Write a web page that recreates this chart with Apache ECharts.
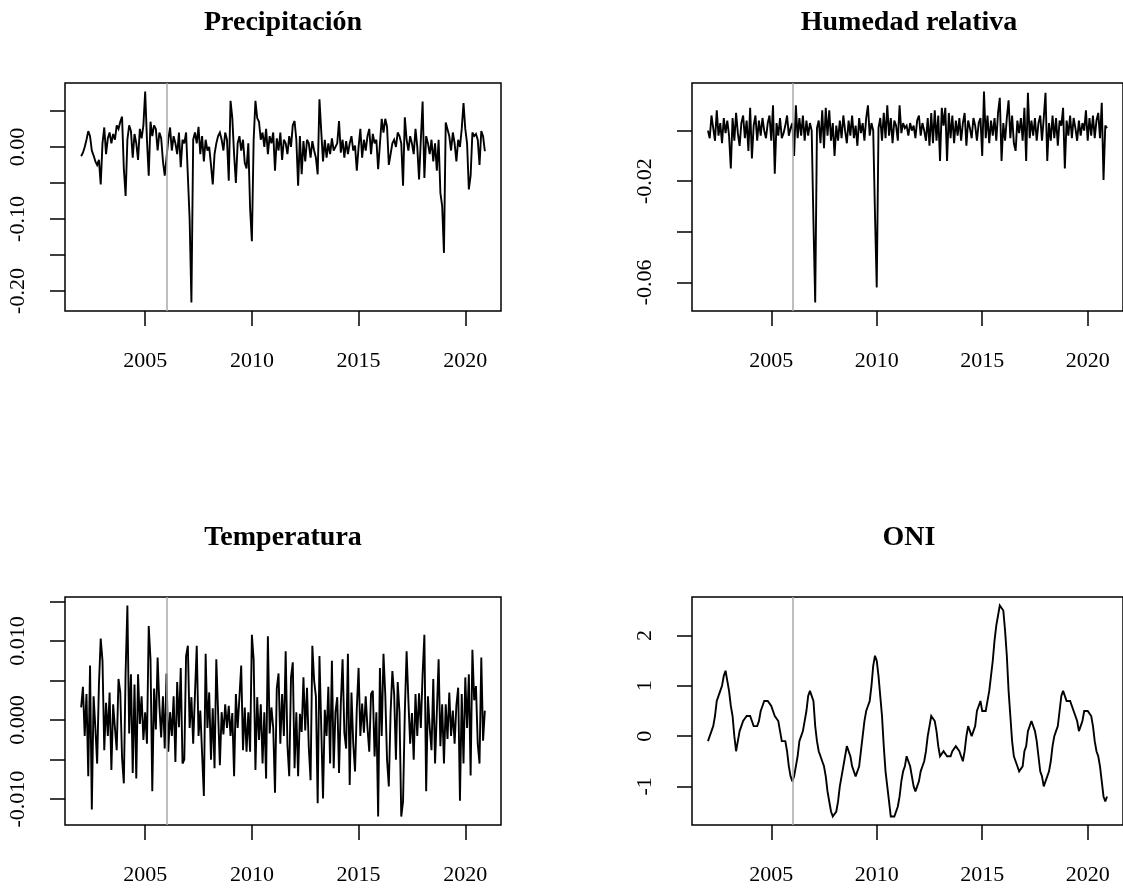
<!DOCTYPE html>
<html>
<head>
<meta charset="utf-8">
<script src="https://cdn.jsdelivr.net/npm/echarts@6/dist/echarts.min.js"></script>
<style>html,body{margin:0;padding:0;background:#fff}#c{width:1123px;height:890px}</style>
</head>
<body>
<div id="c"></div>
<script>
const startYear = 2002;
const monthsPerYear = 12;
const breakYear = 2006;
const titles = ['Precipitación', 'Humedad relativa', 'Temperatura', 'ONI'];
const xTicks = [2005, 2010, 2015, 2020];

const precipitacion = [
  -0.013, -0.008, 0.000, 0.010, 0.022, 0.015, -0.005, -0.012, -0.020, -0.025, -0.018, -0.052,
  0.005, 0.027, -0.010, 0.012, 0.020, 0.005, 0.018, 0.010, 0.030, 0.025, 0.035, 0.042,
  -0.030, -0.068, 0.010, 0.030, 0.022, -0.015, 0.018, 0.005, -0.018, 0.025, 0.012, 0.030,
  0.077, 0.010, -0.040, 0.035, 0.015, 0.030, 0.025, -0.005, 0.020, 0.012, -0.020, -0.040,
  -0.040, 0.010, 0.027, -0.005, 0.015, 0.005, -0.010, 0.020, -0.028, 0.010, 0.005, 0.020,
  0.018, -0.100, -0.216, 0.010, 0.020, 0.005, 0.028, -0.010, 0.015, -0.020, 0.010, -0.005,
  0.000, -0.025, -0.052, -0.010, 0.005, 0.015, 0.020, 0.010, -0.005, 0.020, 0.010, -0.047,
  0.064, 0.040, -0.010, -0.050, 0.005, 0.015, -0.005, 0.010, -0.022, -0.030, 0.005, -0.085,
  -0.131, 0.010, 0.064, 0.040, 0.035, 0.010, 0.020, 0.000, 0.025, -0.010, 0.015, 0.005,
  0.020, -0.033, 0.012, -0.005, 0.020, -0.018, 0.010, 0.005, -0.010, 0.015, 0.000, 0.030,
  0.036, 0.010, -0.054, 0.015, -0.038, 0.008, -0.020, 0.010, 0.005, -0.015, 0.008, -0.005,
  -0.015, -0.038, 0.066, 0.022, -0.020, 0.010, -0.015, 0.005, -0.010, 0.012, -0.005, 0.000,
  0.005, 0.036, -0.008, 0.010, -0.015, 0.008, -0.010, 0.005, 0.015, -0.005, 0.002, -0.033,
  0.000, 0.025, -0.015, 0.010, -0.005, 0.015, 0.025, -0.010, 0.018, 0.005, 0.010, -0.031,
  -0.031, 0.039, 0.020, 0.039, 0.028, -0.025, -0.010, 0.005, 0.010, 0.000, 0.020, 0.015,
  0.005, -0.054, 0.041, 0.010, -0.005, 0.015, 0.005, -0.010, 0.025, 0.000, -0.045, 0.010,
  0.063, -0.043, 0.015, 0.005, -0.010, 0.010, -0.020, 0.005, -0.033, 0.010, -0.064, -0.082,
  -0.147, 0.034, 0.036, 0.015, -0.005, 0.020, 0.005, -0.020, 0.010, 0.000, 0.025, 0.061,
  0.025, 0.005, -0.059, -0.040, 0.020, 0.015, 0.018, 0.010, -0.025, 0.022, 0.015, -0.006
];

const humedad = [
  0.000, -0.003, 0.006, 0.001, -0.004, 0.008, -0.002, 0.003, -0.005, 0.005, -0.001, 0.004,
  -0.002, -0.015, 0.005, -0.004, 0.007, -0.001, -0.006, 0.003, 0.006, -0.003, 0.004, -0.008,
  0.009, -0.011, 0.002, 0.006, -0.004, 0.004, -0.002, 0.005, 0.000, -0.003, 0.003, 0.006,
  -0.004, 0.010, -0.017, 0.003, -0.002, 0.005, -0.003, -0.001, 0.002, 0.006, -0.002, 0.001,
  0.003, -0.010, 0.010, -0.003, 0.005, -0.002, 0.006, -0.004, 0.004, -0.002, 0.003, 0.000,
  -0.036, -0.068, 0.001, 0.004, -0.005, 0.008, -0.007, 0.009, -0.002, 0.008, -0.004, 0.003,
  -0.010, 0.002, -0.004, 0.004, -0.003, 0.006, 0.000, -0.005, 0.004, -0.002, 0.006, -0.003,
  0.002, -0.006, 0.005, -0.001, 0.003, -0.004, 0.005, 0.010, -0.002, 0.003, 0.000, -0.033,
  -0.062, 0.001, 0.005, -0.004, 0.007, -0.003, 0.010, -0.002, 0.005, -0.005, 0.004, 0.002,
  -0.004, 0.010, -0.001, 0.003, 0.001, 0.002, -0.002, 0.003, 0.000, 0.002, -0.003, 0.004,
  0.006, -0.002, 0.003, 0.000, -0.004, 0.005, -0.006, 0.007, -0.005, 0.008, -0.004, 0.006,
  -0.012, 0.009, 0.002, 0.009, -0.012, 0.007, -0.003, 0.006, -0.005, 0.004, -0.002, 0.005,
  -0.004, 0.003, 0.007, -0.006, 0.004, 0.001, -0.003, 0.005, 0.002, -0.004, 0.003, 0.005,
  -0.010, 0.0155, -0.003, 0.006, -0.005, 0.004, -0.002, 0.005, -0.004, 0.007, 0.013, -0.012,
  0.003, -0.004, 0.005, 0.012, -0.003, 0.006, -0.005, -0.008, 0.004, -0.001, 0.005, -0.004,
  0.009, -0.012, 0.015, -0.003, 0.004, -0.002, 0.005, -0.004, 0.003, 0.006, -0.004, 0.005,
  0.015, -0.012, 0.003, -0.004, 0.006, -0.003, 0.005, -0.006, 0.004, 0.002, 0.009, -0.015,
  0.004, -0.002, 0.006, -0.003, 0.005, 0.001, -0.004, 0.004, -0.002, 0.003, 0.000, 0.008,
  -0.004, 0.005, -0.002, 0.006, -0.003, 0.004, 0.007, -0.003, 0.011, -0.0195, 0.002, 0.001
];

const temperatura = [
  0.0016, 0.0042, -0.0020, 0.0033, -0.0071, 0.0069, -0.0113, 0.0030, -0.0010, -0.0055, 0.0045, 0.0103,
  0.0075, -0.0038, 0.0022, -0.0020, 0.0035, -0.0063, 0.0020, -0.0010, -0.0038, 0.0052, 0.0035, -0.0048,
  -0.0080, 0.0060, 0.0145, -0.0017, 0.0058, -0.0067, 0.0045, -0.0074, 0.0058, -0.0005, 0.0030, -0.0025,
  0.0010, -0.0030, 0.0119, 0.0077, -0.0090, 0.0040, -0.0012, 0.0079, 0.0018, -0.0022, 0.0030, -0.0036,
  0.0059, -0.0040, 0.0010, -0.0020, 0.0030, -0.0053, 0.0048, -0.0009, 0.0066, -0.0055, -0.0050, 0.0081,
  0.0094, -0.0010, 0.0029, -0.0030, 0.0033, 0.0094, -0.0020, 0.0012, -0.0042, -0.0096, 0.0084, -0.0010,
  0.0035, -0.0050, 0.0015, -0.0061, 0.0077, 0.0079, -0.0057, 0.0010, -0.0018, 0.0020, -0.0010, 0.0018,
  -0.0020, 0.0009, -0.0071, 0.0033, -0.0010, 0.0029, 0.0069, -0.0038, 0.0016, -0.0040, 0.0010, -0.0040,
  0.0108, 0.0077, -0.0063, 0.0029, -0.0025, 0.0020, -0.0055, 0.0010, -0.0074, 0.0106, -0.0017, 0.0016,
  -0.0010, -0.0092, 0.0040, 0.0059, -0.0030, 0.0033, -0.0020, 0.0087, -0.0032, -0.0071, 0.0054, 0.0073,
  -0.0061, 0.0010, -0.0071, 0.0008, -0.0015, 0.0054, -0.0013, 0.0041, -0.0034, -0.0076, 0.0094, 0.0050,
  0.0030, -0.0105, 0.0081, 0.0079, -0.0099, 0.0013, -0.0020, 0.0042, -0.0055, 0.0075, -0.0061, 0.0010,
  0.0029, -0.0067, 0.0020, 0.0077, -0.0016, -0.0036, 0.0084, -0.0082, 0.0035, -0.0030, -0.0065, 0.0015,
  0.0066, -0.0020, 0.0021, -0.0016, 0.0030, -0.0010, -0.0040, 0.0033, 0.0037, -0.0046, 0.0010, -0.0122,
  0.0066, -0.0020, 0.0084, 0.0033, -0.0050, -0.0084, 0.0010, 0.0062, 0.0033, -0.0050, 0.0048, 0.0010,
  -0.0122, -0.0103, 0.0010, 0.0087, 0.0025, -0.0030, 0.0009, -0.0050, 0.0033, -0.0020, 0.0034, -0.0010,
  0.0058, 0.0108, -0.0090, 0.0030, -0.0010, -0.0038, 0.0052, -0.0055, 0.0010, 0.0077, -0.0033, 0.0020,
  -0.0055, 0.0020, -0.0024, 0.0035, -0.0020, 0.0012, -0.0030, 0.0019, 0.0041, -0.0102, 0.0033, -0.0055,
  0.0054, -0.0010, 0.0058, -0.0070, 0.0089, 0.0025, 0.0043, -0.0030, -0.0055, 0.0079, -0.0026, 0.0012
];

const oni = [
  -0.1, 0.0, 0.1, 0.2, 0.4, 0.7, 0.8, 0.9, 1.0, 1.2, 1.3, 1.1,
  0.9, 0.6, 0.4, 0.0, -0.3, -0.1, 0.1, 0.2, 0.3, 0.3, 0.4, 0.4,
  0.4, 0.3, 0.2, 0.2, 0.2, 0.3, 0.5, 0.6, 0.7, 0.7, 0.7, 0.7,
  0.6, 0.6, 0.4, 0.4, 0.3, 0.1, -0.1, -0.1, -0.1, -0.3, -0.6, -0.8,
  -0.9, -0.8, -0.6, -0.4, -0.1, 0.0, 0.1, 0.3, 0.5, 0.8, 0.9, 0.9,
  0.7, 0.2, -0.1, -0.3, -0.4, -0.5, -0.6, -0.8, -1.1, -1.3, -1.5, -1.6,
  -1.6, -1.5, -1.3, -1.0, -0.8, -0.6, -0.4, -0.2, -0.2, -0.4, -0.6, -0.7,
  -0.8, -0.8, -0.6, -0.3, 0.0, 0.3, 0.5, 0.6, 0.7, 1.0, 1.4, 1.6,
  1.5, 1.2, 0.8, 0.4, -0.2, -0.7, -1.0, -1.3, -1.6, -1.6, -1.6, -1.6,
  -1.4, -1.2, -0.9, -0.7, -0.6, -0.4, -0.5, -0.6, -0.8, -1.0, -1.1, -1.0,
  -0.9, -0.7, -0.6, -0.5, -0.3, 0.0, 0.2, 0.4, 0.4, 0.3, 0.1, -0.2,
  -0.4, -0.4, -0.3, -0.3, -0.4, -0.4, -0.4, -0.3, -0.3, -0.2, -0.2, -0.3,
  -0.4, -0.5, -0.3, 0.0, 0.2, 0.2, 0.0, 0.1, 0.2, 0.5, 0.6, 0.7,
  0.5, 0.5, 0.5, 0.7, 0.9, 1.2, 1.5, 1.9, 2.2, 2.4, 2.6, 2.6,
  2.5, 2.1, 1.6, 0.9, 0.4, -0.1, -0.4, -0.5, -0.6, -0.7, -0.7, -0.6,
  -0.3, -0.2, 0.1, 0.2, 0.3, 0.3, 0.1, -0.1, -0.4, -0.7, -0.8, -1.0,
  -0.9, -0.9, -0.7, -0.5, -0.2, 0.0, 0.1, 0.2, 0.5, 0.8, 0.9, 0.8,
  0.7, 0.7, 0.7, 0.7, 0.5, 0.5, 0.3, 0.1, 0.2, 0.3, 0.5, 0.5,
  0.5, 0.5, 0.4, 0.2, -0.1, -0.3, -0.4, -0.6, -0.9, -1.2, -1.3, -1.2
];

const yTicks = [
  [-0.20, -0.15, -0.10, -0.05, 0.00, 0.05],
  [-0.06, -0.04, -0.02, 0.00],
  [-0.010, -0.005, 0.000, 0.005, 0.010, 0.015],
  [-1, 0, 1, 2]
];
const yLabels = [
  [-0.20, -0.10, 0.00],
  [-0.06, -0.02],
  [-0.010, 0.000, 0.010],
  [-1, 0, 1, 2]
];
const yDecimals = [2, 2, 3, 0];

const seriesList = [precipitacion, humedad, temperatura, oni];

// layout
const FONT = 'Liberation Serif';
const grids = [
  { left: 65, top: 83, width: 436, height: 228 },
  { left: 692, top: 83, width: 435, height: 228 },
  { left: 65, top: 597, width: 436, height: 228 },
  { left: 692, top: 597, width: 435, height: 228 }
];
const titlePos = [[283, 23], [909, 23], [283, 538], [909, 538]];

function rRange(arr) {
  let lo = Math.min.apply(null, arr), hi = Math.max.apply(null, arr);
  const d = (hi - lo) * 0.04;
  return [lo - d, hi + d];
}
const times = seriesList[0].map((_, i) => startYear + i / monthsPerYear);
const xr = rRange(times);

const option = {
  animation: false,
  backgroundColor: '#fff',
  grid: grids.map(g => Object.assign({ show: true, borderColor: '#000', borderWidth: 1.5, backgroundColor: 'transparent', containLabel: false }, g)),
  graphic: titles.map((t, k) => ({
    type: 'text', x: titlePos[k][0], y: titlePos[k][1],
    style: { text: t, fill: '#000', fontFamily: FONT, fontWeight: 'bold', fontSize: 28, align: 'center', verticalAlign: 'middle' }
  })),
  xAxis: seriesList.map((_, k) => ({
    type: 'value', gridIndex: k, min: xr[0], max: xr[1],
    axisLine: { show: false, onZero: false }, splitLine: { show: false },
    axisTick: { show: true, inside: false, length: 15, customValues: xTicks, lineStyle: { color: '#000', width: 1.5 } },
    axisLabel: { show: true, customValues: xTicks, color: '#000', fontFamily: FONT, fontSize: 22, margin: 39, formatter: v => String(Math.round(v)) }
  })),
  yAxis: seriesList.map((s, k) => {
    const r = rRange(s);
    return {
      type: 'value', gridIndex: k, min: r[0], max: r[1],
      axisLine: { show: false, onZero: false }, splitLine: { show: false },
      axisTick: { show: true, inside: false, length: 15, customValues: yTicks[k], lineStyle: { color: '#000', width: 1.5 } },
      axisLabel: { show: true, customValues: yLabels[k], rotate: 90, color: '#000', fontFamily: FONT, fontSize: 22, margin: 36,
        formatter: v => { const n = Number(v); return (Math.abs(n) < 1e-12 ? 0 : n).toFixed(yDecimals[k]); } }
    };
  }),
  series: seriesList.map((s, k) => ({
    type: 'line', xAxisIndex: k, yAxisIndex: k,
    data: s.map((v, i) => [times[i], v]),
    showSymbol: false, symbol: 'none', silent: true,
    lineStyle: { color: '#000', width: 1.9, join: 'miter', miterLimit: 3 },
    markLine: {
      silent: true, symbol: ['none', 'none'], label: { show: false },
      lineStyle: { color: '#a8a8a8', width: 1.5, type: 'solid' },
      emphasis: { disabled: true },
      data: [{ xAxis: breakYear }]
    }
  }))
};

const chart = echarts.init(document.getElementById('c'), null, { renderer: 'canvas' });
chart.setOption(option);
</script>
</body>
</html>
